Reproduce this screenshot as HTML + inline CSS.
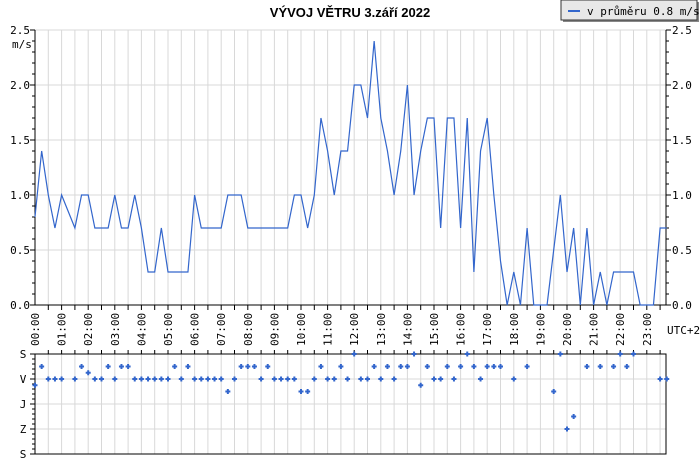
<!DOCTYPE html>
<html><head><meta charset="utf-8"><style>
body{margin:0;background:#fff;width:700px;height:460px;overflow:hidden}
svg{display:block;font-family:"DejaVu Sans Mono","Liberation Mono",monospace}
</style></head><body>
<svg id="c" width="700" height="460">
<text x="350" y="17" text-anchor="middle" font-family="Liberation Sans, sans-serif" font-weight="bold" font-size="13">VÝVOJ VĚTRU  3.září 2022</text>
<g>
<rect x="563" y="2" width="136" height="20" fill="#888"/>
<rect x="561" y="0" width="136" height="20" fill="#e8e8e8" stroke="#333"/>
<line x1="568" y1="11" x2="580" y2="11" stroke="#3366cc" stroke-width="2"/>
<text x="587" y="15" font-size="11" fill="#000">v průměru 0.8 m/s</text>
</g>
<text x="12" y="48" font-size="11">m/s</text>
<text x="667" y="334" font-size="11">UTC+2</text>
</svg>
<script>
const speeds=[0.8,1.4,1.0,0.7,1.0,0.85,0.7,1.0,1.0,0.7,0.7,0.7,1.0,0.7,0.7,1.0,0.7,0.3,0.3,0.7,0.3,0.3,0.3,0.3,
1.0,0.7,0.7,0.7,0.7,1.0,1.0,1.0,0.7,0.7,0.7,0.7,0.7,0.7,0.7,1.0,1.0,0.7,1.0,1.7,1.4,1.0,1.4,1.4,
2.0,2.0,1.7,2.4,1.7,1.4,1.0,1.4,2.0,1.0,1.4,1.7,1.7,0.7,1.7,1.7,0.7,1.7,0.3,1.4,1.7,1.0,0.4,0.0,
0.3,0.0,0.7,0.0,0.0,0.0,0.5,1.0,0.3,0.7,0.0,0.7,0.0,0.3,0.0,0.3,0.3,0.3,0.3,0.0,0.0,0.0,0.7,0.7];
const directions=[112.5,45,90,90,90,null,90,45,67.5,90,90,45,90,45,45,90,90,90,90,90,90,45,90,45,
90,90,90,90,90,135,90,45,45,45,90,45,90,90,90,90,135,135,90,45,90,90,45,90,
0,90,90,45,90,45,90,45,45,0,112.5,45,90,90,45,90,45,0,45,90,45,45,45,null,
90,null,45,null,null,null,135,0,270,225,null,45,null,45,null,45,0,45,0,null,null,null,90,90];
const speedTicks=["0.0","0.5","1.0","1.5","2.0","2.5"];
const dirLabels=["S","V","J","Z","S"];
const hourLabels=["00:00","01:00","02:00","03:00","04:00","05:00","06:00","07:00","08:00","09:00","10:00","11:00","12:00","13:00","14:00","15:00","16:00","17:00","18:00","19:00","20:00","21:00","22:00","23:00"];

const svg=document.getElementById('c');const NS='http://www.w3.org/2000/svg';
const L=35,R=666,T=30,B=305,DT=354,DB=454;
const xStep=6.65;
const x=i=>L+i*xStep;
const yS=v=>B-v*110;
const yD=d=>DT+d/360*100;
function mk(tag,a,parent){const e=document.createElementNS(NS,tag);for(const k in a)e.setAttribute(k,a[k]);(parent||svg).appendChild(e);return e;}

// grids
const grid=mk('g',{});


for(let k=1;k<=47;k++){const gx=L+k*13.3;if(gx>=R)break;
 mk('line',{x1:gx,y1:T,x2:gx,y2:B,stroke:'#d8d8d8'},grid);
 mk('line',{x1:gx,y1:DT,x2:gx,y2:DB,stroke:'#d8d8d8'},grid);}
speedTicks.forEach((t,i)=>{const v=parseFloat(t);if(v>0)mk('line',{x1:L,y1:yS(v),x2:R,y2:yS(v),stroke:'#d8d8d8'},grid);});
[1,2,3].forEach(k=>mk('line',{x1:L,y1:DT+k*25,x2:R,y2:DT+k*25,stroke:'#d8d8d8'},grid));

// axes
const ax=mk('g',{stroke:'#000'});


mk('line',{x1:L,y1:T,x2:L,y2:B},ax);mk('line',{x1:R,y1:T,x2:R,y2:B},ax);mk('line',{x1:L,y1:B,x2:R,y2:B},ax);
mk('rect',{x:L,y:DT,width:R-L,height:DB-DT,fill:'none'},ax);
for(let v=0;v<=25;v++){const yy=yS(v/10),len=v%5==0?5:3;
 mk('line',{x1:L-len,y1:yy,x2:L,y2:yy},ax);mk('line',{x1:R,y1:yy,x2:R+len,y2:yy},ax);}
for(let k=0;k<=20;k++){const yy=DT+k*5,len=k%5==0?5:3;mk('line',{x1:L-len,y1:yy,x2:L,y2:yy},ax);}
for(let k=1;k<=47;k++){const gx=L+k*13.3;if(gx>=R)break;mk('line',{x1:gx,y1:B,x2:gx,y2:B+5},ax);mk('line',{x1:gx,y1:DT-4,x2:gx,y2:DT},ax);}

speedTicks.forEach(t=>{const yy=yS(parseFloat(t))+4;
 const a=mk('text',{x:30,y:yy,'text-anchor':'end','font-size':11});a.textContent=t;
 
 const b=mk('text',{x:672,y:yy,'font-size':11});b.textContent=t;
 });
dirLabels.forEach((t,i)=>{const a=mk('text',{x:23,y:DT+i*25+4,'text-anchor':'middle','font-size':11});a.textContent=t;
 });
hourLabels.forEach((t,i)=>{const hx=L+i*26.6+4;
 const a=mk('text',{x:hx,y:346,'font-size':11,transform:`rotate(-90 ${hx} 346)`});a.textContent=t;
 });

// speed line
const pts=speeds.map((v,i)=>x(i).toFixed(2)+','+yS(v).toFixed(2)).join(' ');
const line=mk('polyline',{points:pts,fill:'none',stroke:'#3366cc','stroke-width':1.2});



// direction points
directions.forEach((d,i)=>{if(d===null)return;const cx=x(i),cy=yD(d);
 const p=mk('path',{d:`M${cx-2.5},${cy}h5M${cx},${cy-2.5}v5`,stroke:'#3366cc','stroke-width':2});
 
 });
</script>
</body></html>
